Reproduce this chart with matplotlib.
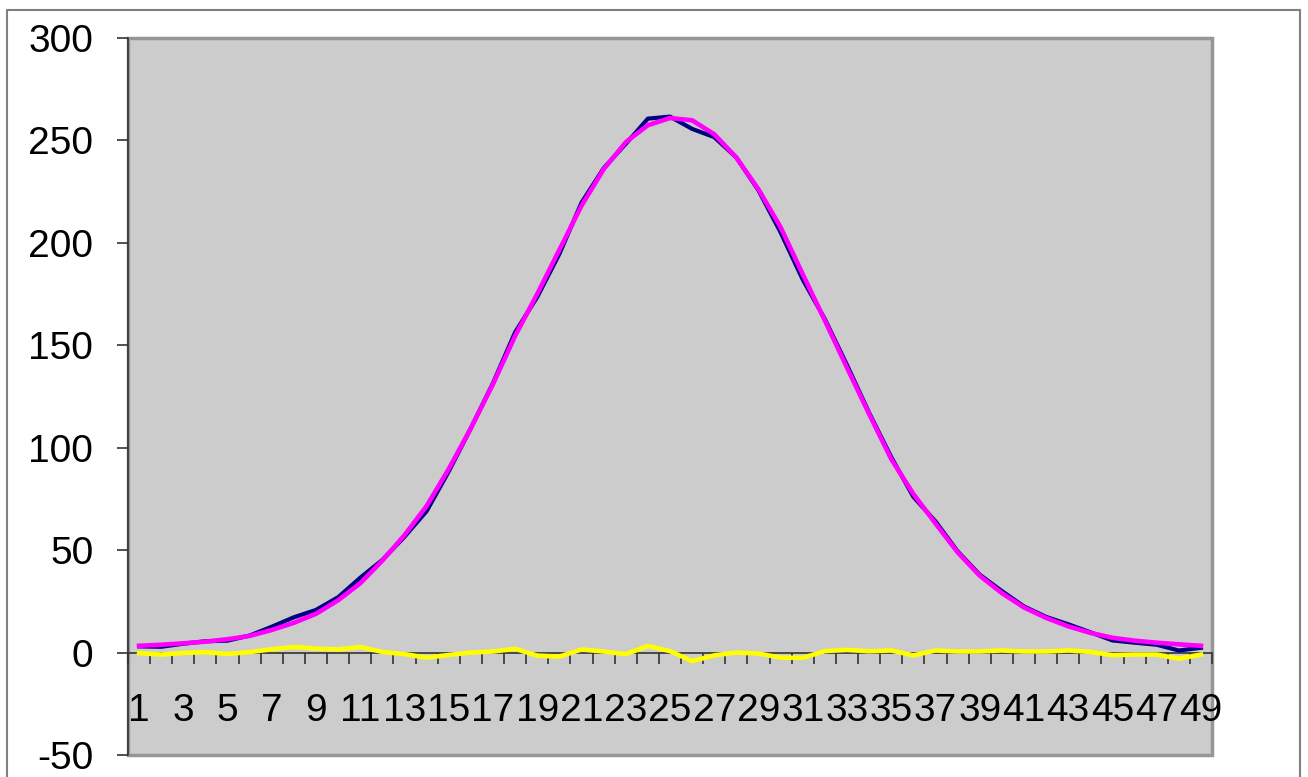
# Curva gaussiana: datos, ajuste y residuos (estilo Excel)
import matplotlib
matplotlib.use("Agg")
import matplotlib.pyplot as plt
from matplotlib.patches import Rectangle

# Categorías del eje X
categorias = list(range(1, 50))

# Serie medida (azul marino)
datos = [3.0, 2.8, 4.3, 5.5, 5.8, 8.3, 12.6, 17.2, 20.8, 27.0,
         36.5, 45.2, 56.5, 69.0, 88.4, 109.5, 131.5, 156.3, 173.5, 194.5,
         219.5, 236.3, 248.2, 260.5, 261.5, 255.5, 251.5, 241.5, 225.5, 205.0,
         182.0, 162.7, 140.3, 117.0, 95.4, 76.0, 64.0, 49.4, 38.0, 30.0,
         22.5, 17.4, 13.8, 9.9, 5.9, 4.8, 3.8, 1.0, 2.3]

# Serie ajustada (magenta)
ajuste = [3.3, 3.8, 4.5, 5.3, 6.5, 8.1, 11.0, 14.5, 18.9, 25.5,
          33.8, 44.9, 57.3, 71.5, 89.6, 109.5, 131.0, 154.5, 175.0, 196.5,
          218.0, 235.8, 249.0, 257.3, 260.8, 259.7, 252.9, 241.5, 226.0, 207.5,
          184.6, 162.0, 139.0, 116.4, 94.4, 77.4, 63.0, 48.9, 37.5, 29.0,
          22.0, 16.9, 12.8, 9.6, 7.2, 5.8, 4.8, 4.0, 3.3]

# Residuos (amarillo)
residuos = [-0.3, -1.0, -0.2, 0.2, -0.7, 0.2, 1.6, 2.7, 1.9, 1.5,
            2.7, 0.3, -0.8, -2.5, -1.2, 0.0, 0.5, 1.8, -1.5, -2.0,
            1.5, 0.5, -0.8, 3.2, 0.7, -4.2, -1.4, 0.0, -0.5, -2.5,
            -2.6, 0.7, 1.3, 0.6, 1.0, -1.4, 1.0, 0.5, 0.5, 1.0,
            0.5, 0.5, 1.0, 0.3, -1.3, -1.0, -1.0, -3.0, -1.0]

yticks = [-50, 0, 50, 100, 150, 200, 250, 300]

W, H = 1308, 777
fig = plt.figure(figsize=(W / 100, H / 100), dpi=100)
fig.patch.set_facecolor("white")

# Marco exterior del gráfico
fig.add_artist(Rectangle((7 / W, -0.05), (1300 - 7) / W, (H - 10) / H + 0.05,
                         transform=fig.transFigure, fill=False,
                         edgecolor="#808080", lw=1.5))

# Área de trazado
ax = fig.add_axes([128 / W, 1 - 755 / H, (1212 - 128) / W, (755 - 37.7) / H])
ax.set_facecolor("#cccccc")

ax.plot(categorias, datos, color="#000080", lw=3.0, zorder=3)
ax.plot(categorias, ajuste, color="#ff00ff", lw=3.3, zorder=4)
ax.plot(categorias, residuos, color="#ffff00", lw=3.3, zorder=5)

ax.set_xlim(0.5, 49.5)
ax.set_ylim(-50, 300)

# Bordes
for lado in ["top", "right"]:
    ax.spines[lado].set_visible(False)
ax.spines["left"].set_color("#333333")
ax.spines["left"].set_linewidth(1.2)
ax.spines["bottom"].set_position(("data", 0))
ax.spines["bottom"].set_color("#333333")
ax.spines["bottom"].set_linewidth(1.2)
ax.add_patch(Rectangle((0, 0), 1, 1, transform=ax.transAxes, fill=False,
                       edgecolor="#969696", lw=2.5, zorder=1, clip_on=False))

# Eje Y
ax.set_yticks(yticks)
ax.set_yticklabels([str(v) for v in yticks], fontsize=28,
                   family=["Liberation Sans", "DejaVu Sans"])
ax.tick_params(axis="y", direction="out", length=8, width=1.2,
               color="#333333", pad=17)

# Eje X: etiquetas cada dos categorías, marcas entre categorías
ax.set_xticks(categorias[::2])
ax.set_xticklabels([str(c) for c in categorias[::2]], fontsize=28,
                   family=["Liberation Sans", "DejaVu Sans"])
ax.set_xticks([c - 0.5 for c in categorias] + [49.5], minor=True)
ax.tick_params(axis="x", which="major", length=0, pad=29)
ax.tick_params(axis="x", which="minor", direction="out", length=8,
               width=1.2, color="#333333")

plt.savefig("out.png", dpi=100)
